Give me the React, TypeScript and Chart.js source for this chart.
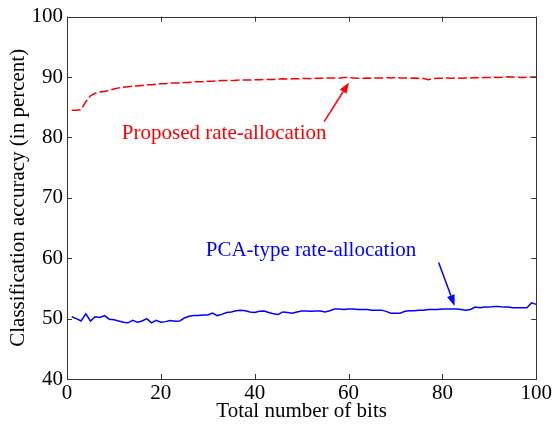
import React, { useEffect, useRef } from "react";
import { Chart, registerables } from "chart.js";

Chart.register(...registerables);

const BITS: number[] = Array.from({ length: 100 }, (_, i) => i + 1);

const PROPOSED: number[] = [
  84.5, 84.5, 84.6, 85.9, 86.9, 87.3, 87.5, 87.6, 87.8, 88.0,
  88.2, 88.3, 88.4, 88.5, 88.5, 88.6, 88.7, 88.7, 88.8, 88.9,
  88.9, 89.0, 89.0, 89.0, 89.1, 89.1, 89.2, 89.2, 89.2, 89.3,
  89.3, 89.35, 89.4, 89.4, 89.4, 89.45, 89.5, 89.5, 89.5, 89.55,
  89.55, 89.6, 89.6, 89.6, 89.65, 89.7, 89.65, 89.7, 89.7, 89.75,
  89.75, 89.7, 89.8, 89.8, 89.8, 89.85, 89.85, 89.8, 89.9, 89.9,
  89.85, 89.8, 89.8, 89.85, 89.8, 89.85, 89.85, 89.9, 89.85, 89.9,
  89.85, 89.85, 89.8, 89.85, 89.8, 89.75, 89.55, 89.75, 89.8, 89.8,
  89.85, 89.8, 89.85, 89.8, 89.85, 89.85, 89.9, 89.85, 89.9, 89.9,
  89.95, 89.9, 89.95, 90.05, 90.0, 89.95, 89.9, 89.95, 90.0, 90.0,
];

const PCA: number[] = [
  50.3, 50.0, 49.6, 50.8, 49.6, 50.3, 50.2, 50.5, 49.9, 49.8,
  49.6, 49.4, 49.3, 49.7, 49.4, 49.6, 50.0, 49.3, 49.7, 49.4,
  49.5, 49.7, 49.55, 49.6, 50.1, 50.4, 50.5, 50.5, 50.6, 50.6,
  50.9, 50.5, 50.7, 51.0, 51.1, 51.3, 51.4, 51.3, 51.1, 51.0,
  51.2, 51.25, 51.0, 50.8, 50.7, 51.1, 51.0, 50.9, 51.1, 51.25,
  51.25, 51.2, 51.25, 51.25, 51.1, 51.3, 51.6, 51.6, 51.5, 51.6,
  51.6, 51.5, 51.5, 51.5, 51.4, 51.4, 51.4, 51.2, 50.9, 50.9,
  50.9, 51.2, 51.3, 51.3, 51.4, 51.4, 51.5, 51.5, 51.5, 51.6,
  51.6, 51.6, 51.6, 51.5, 51.4, 51.5, 51.9, 51.8, 51.9, 51.9,
  52.0, 52.0, 51.9, 51.9, 51.8, 51.8, 51.8, 51.8, 52.6, 52.35,
];

const X_TICKS = [0, 20, 40, 60, 80, 100];
const Y_TICKS = [40, 50, 60, 70, 80, 90, 100];

const ANNOTATIONS = [
  { text: "Proposed rate-allocation", color: "#ff0000", tx: 33.5, ty: 80.7, ax0: 54.8, ay0: 82.6, ax1: 60.1, ay1: 89.1 },
  { text: "PCA-type rate-allocation", color: "#0000ff", tx: 52, ty: 61.3, ax0: 79.2, ay0: 59.3, ax1: 82.6, ay1: 52.1 },
];

const FONT = "'Liberation Serif', 'Times New Roman', serif";
const FS = 21;

const boxPlugin = {
  id: "boxTicks",
  afterDatasetsDraw(chart: any) {
    const { ctx, chartArea } = chart;
    const xs = chart.scales.x;
    const ys = chart.scales.y;
    const { left, right, top, bottom } = chartArea;
    ctx.save();
    ctx.strokeStyle = "#333333";
    ctx.lineWidth = 1;
    ctx.strokeRect(Math.round(left) + 0.5, Math.round(top) + 0.5, Math.round(right - left), Math.round(bottom - top));
    const tl = 5;
    ctx.beginPath();
    for (const v of X_TICKS) {
      const px = Math.round(xs.getPixelForValue(v)) + 0.5;
      ctx.moveTo(px, bottom);
      ctx.lineTo(px, bottom - tl);
      ctx.moveTo(px, top);
      ctx.lineTo(px, top + tl);
    }
    for (const v of Y_TICKS) {
      const py = Math.round(ys.getPixelForValue(v)) + 0.5;
      ctx.moveTo(left, py);
      ctx.lineTo(left + tl, py);
      ctx.moveTo(right, py);
      ctx.lineTo(right - tl, py);
    }
    ctx.stroke();

    for (const a of ANNOTATIONS) {
      ctx.fillStyle = a.color;
      ctx.strokeStyle = a.color;
      ctx.font = `${FS}px ${FONT}`;
      ctx.textAlign = "center";
      ctx.textBaseline = "middle";
      ctx.fillText(a.text, xs.getPixelForValue(a.tx), ys.getPixelForValue(a.ty));
      const x0 = xs.getPixelForValue(a.ax0);
      const y0 = ys.getPixelForValue(a.ay0);
      const x1 = xs.getPixelForValue(a.ax1);
      const y1 = ys.getPixelForValue(a.ay1);
      const ang = Math.atan2(y1 - y0, x1 - x0);
      const hl = 11;
      const hw = 4;
      const bx = x1 - hl * Math.cos(ang);
      const by = y1 - hl * Math.sin(ang);
      ctx.lineWidth = 1.5;
      ctx.beginPath();
      ctx.moveTo(x0, y0);
      ctx.lineTo(bx, by);
      ctx.stroke();
      ctx.beginPath();
      ctx.moveTo(x1, y1);
      ctx.lineTo(bx + hw * Math.sin(ang), by - hw * Math.cos(ang));
      ctx.lineTo(bx - hw * Math.sin(ang), by + hw * Math.cos(ang));
      ctx.closePath();
      ctx.fill();
    }
    ctx.restore();
  },
};

export default function App() {
  const ref = useRef<HTMLCanvasElement>(null);
  useEffect(() => {
    if (!ref.current) return;
    const chart = new Chart(ref.current, {
      type: "line",
      data: {
        datasets: [
          {
            label: "Proposed rate-allocation",
            data: BITS.map((b, i) => ({ x: b, y: PROPOSED[i] })),
            borderColor: "#ff0000",
            borderWidth: 1.5,
            borderDash: [9, 3],
            pointRadius: 0,
            fill: false,
            tension: 0,
          },
          {
            label: "PCA-type rate-allocation",
            data: BITS.map((b, i) => ({ x: b, y: PCA[i] })),
            borderColor: "#0000ff",
            borderWidth: 1.5,
            pointRadius: 0,
            fill: false,
            tension: 0,
          },
        ],
      },
      options: {
        animation: false,
        responsive: false,
        maintainAspectRatio: false,
        layout: { padding: { left: 0, top: 14, right: 16, bottom: 0 } },
        plugins: { legend: { display: false }, tooltip: { enabled: false } },
        scales: {
          x: {
            type: "linear",
            min: 0,
            max: 100,
            afterBuildTicks: (s: any) => { s.ticks = X_TICKS.map((v) => ({ value: v })); },
            afterFit: (s: any) => { s.height = 49; },
            grid: { display: false, drawTicks: false },
            border: { display: false },
            ticks: { color: "#000", padding: 2, maxRotation: 0, font: { family: FONT, size: FS } },
            title: { display: true, text: "Total number of bits", color: "#000", padding: { top: 0, bottom: 4 }, font: { family: FONT, size: FS } },
          },
          y: {
            type: "linear",
            min: 40,
            max: 100,
            afterBuildTicks: (s: any) => { s.ticks = Y_TICKS.map((v) => ({ value: v })); },
            afterFit: (s: any) => { s.width = 67; },
            grid: { display: false, drawTicks: false },
            border: { display: false },
            ticks: { color: "#000", padding: 4, font: { family: FONT, size: FS } },
            title: { display: true, text: "Classification accuracy (in percent)", color: "#000", padding: { top: 5.5, bottom: 0 }, font: { family: FONT, size: FS } },
          },
        },
      },
      plugins: [boxPlugin],
    });
    return () => chart.destroy();
  }, []);
  return (
    <div style={{ position: "fixed", left: 0, top: 0, width: 554, height: 428, background: "#fff" }}>
      <canvas ref={ref} width={554} height={428} style={{ width: 554, height: 428 }} />
    </div>
  );
}
